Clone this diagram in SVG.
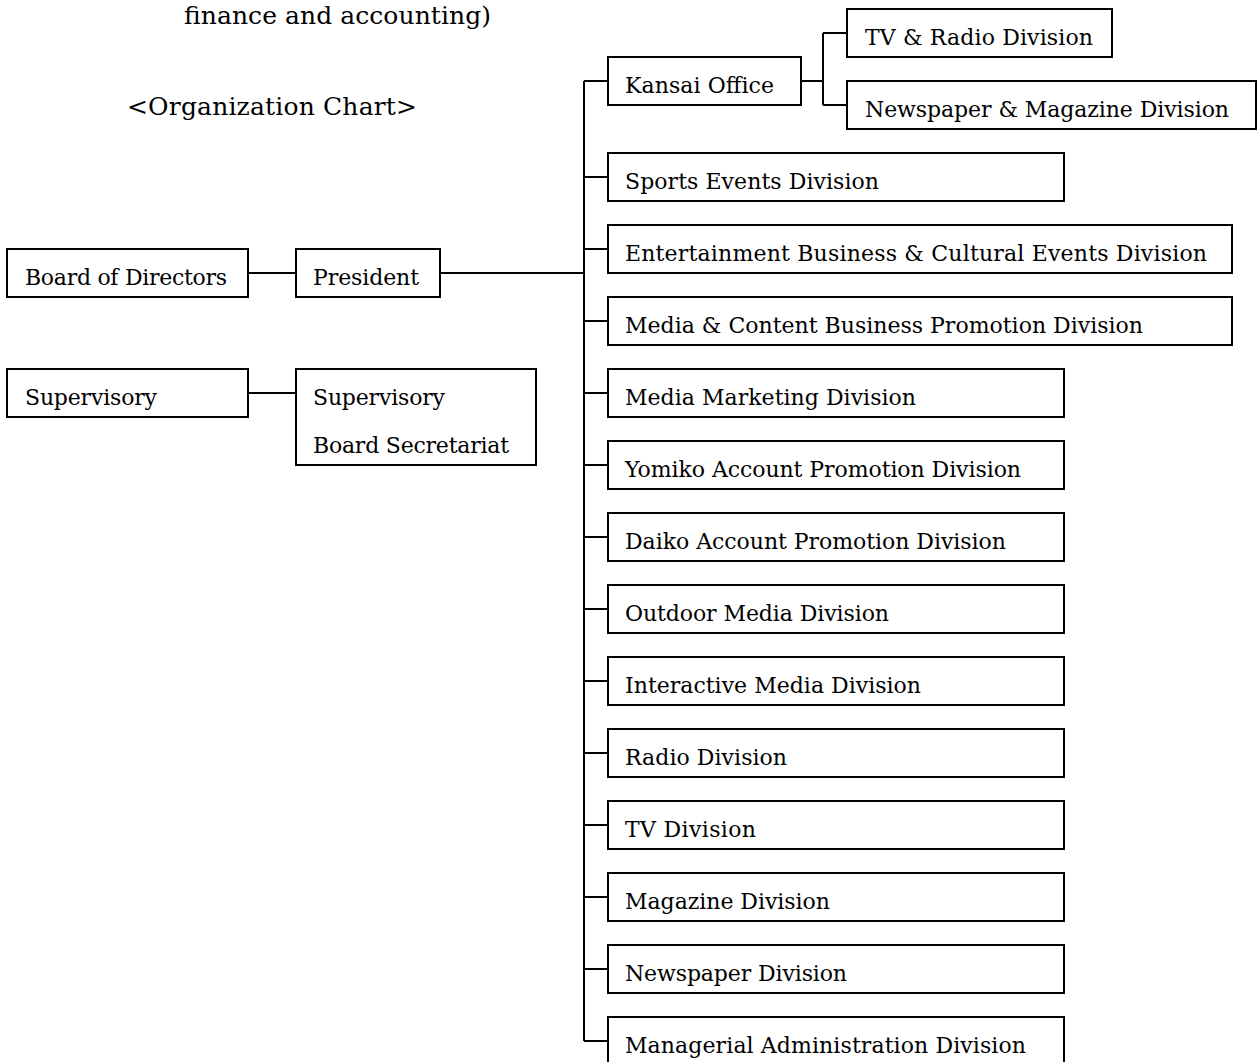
<svg xmlns="http://www.w3.org/2000/svg" width="1257" height="1062" viewBox="0 0 1257 1062">
<style>
rect{fill:#fff;stroke:#000;stroke-width:2}
text{font-family:"DejaVu Serif","Liberation Serif",serif;font-size:22px;fill:#000}
.t{font-size:25px}
#connectors path{fill:none;stroke:#000;stroke-width:2}
</style>
<rect x="0" y="0" width="1257" height="1062" style="stroke:none"/>
<text class="t" x="184" y="24" textLength="307">finance and accounting)</text>
<text class="t" x="127" y="115" textLength="290">&lt;Organization Chart&gt;</text>
<g id="connectors">
<path d="M248 273H296M440 273H584M248 393H296"/>
<path d="M584 81V1041"/>
<path d="M584 81H608M584 177H608M584 249H608M584 321H608M584 393H608M584 465H608M584 537H608M584 609H608M584 681H608M584 753H608M584 825H608M584 897H608M584 969H608M584 1041H608"/>
<path d="M801 81H823M823 33V105M823 33H847M823 105H847"/>
</g>
<g id="board"><rect x="7" y="249" width="241" height="48"/><text x="25" y="285" textLength="202">Board of Directors</text></g>
<g id="president"><rect x="296" y="249" width="144" height="48"/><text x="313" y="285" textLength="106">President</text></g>
<g id="supervisory"><rect x="7" y="369" width="241" height="48"/><text x="25" y="405" textLength="132">Supervisory</text></g>
<g id="secretariat"><rect x="296" y="369" width="240" height="96"/><text x="313" y="405" textLength="132">Supervisory</text><text x="313" y="453" textLength="196">Board Secretariat</text></g>
<g id="kansai"><rect x="608" y="57" width="193" height="48"/><text x="625" y="93" textLength="149">Kansai Office</text></g>
<g id="tvradio"><rect x="847" y="9" width="265" height="48"/><text x="865" y="45" textLength="228">TV &amp; Radio Division</text></g>
<g id="newsmag"><rect x="847" y="81" width="409" height="48"/><text x="865" y="117" textLength="364">Newspaper &amp; Magazine Division</text></g>
<g id="sports"><rect x="608" y="153" width="456" height="48"/><text x="625" y="189" textLength="254">Sports Events Division</text></g>
<g id="entertainment"><rect x="608" y="225" width="624" height="48"/><text x="625" y="261" textLength="582">Entertainment Business &amp; Cultural Events Division</text></g>
<g id="mediacontent"><rect x="608" y="297" width="624" height="48"/><text x="625" y="333" textLength="518">Media &amp; Content Business Promotion Division</text></g>
<g id="mediamarketing"><rect x="608" y="369" width="456" height="48"/><text x="625" y="405" textLength="291">Media Marketing Division</text></g>
<g id="yomiko"><rect x="608" y="441" width="456" height="48"/><text x="625" y="477" textLength="396">Yomiko Account Promotion Division</text></g>
<g id="daiko"><rect x="608" y="513" width="456" height="48"/><text x="625" y="549" textLength="381">Daiko Account Promotion Division</text></g>
<g id="outdoor"><rect x="608" y="585" width="456" height="48"/><text x="625" y="621" textLength="264">Outdoor Media Division</text></g>
<g id="interactive"><rect x="608" y="657" width="456" height="48"/><text x="625" y="693" textLength="296">Interactive Media Division</text></g>
<g id="radio"><rect x="608" y="729" width="456" height="48"/><text x="625" y="765" textLength="162">Radio Division</text></g>
<g id="tv"><rect x="608" y="801" width="456" height="48"/><text x="625" y="837" textLength="131">TV Division</text></g>
<g id="magazine"><rect x="608" y="873" width="456" height="48"/><text x="625" y="909" textLength="205">Magazine Division</text></g>
<g id="newspaper"><rect x="608" y="945" width="456" height="48"/><text x="625" y="981" textLength="222">Newspaper Division</text></g>
<g id="managerial"><rect x="608" y="1017" width="456" height="48"/><text x="625" y="1053" textLength="401">Managerial Administration Division</text></g>
</svg>
